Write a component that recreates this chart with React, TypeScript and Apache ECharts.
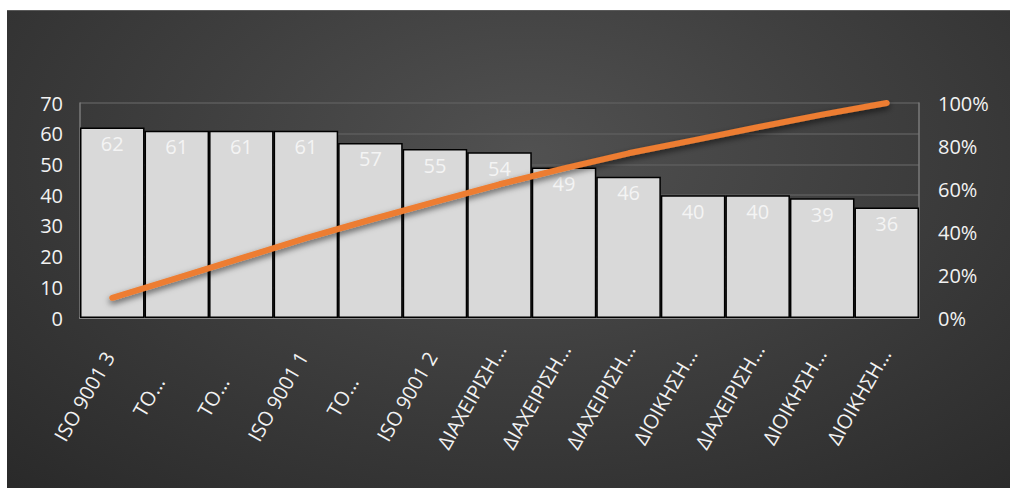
import React, { useEffect, useRef } from "react";
import * as echarts from "echarts";

const categories = [
  "ISO 9001 3",
  "TO…",
  "TO…",
  "ISO 9001 1",
  "TO…",
  "ISO 9001 2",
  "ΔΙΑΧΕΙΡΙΣΗ…",
  "ΔΙΑΧΕΙΡΙΣΗ…",
  "ΔΙΑΧΕΙΡΙΣΗ…",
  "ΔΙΟΙΚΗΣΗ…",
  "ΔΙΑΧΕΙΡΙΣΗ…",
  "ΔΙΟΙΚΗΣΗ…",
  "ΔΙΟΙΚΗΣΗ…",
];
const counts = [62, 61, 61, 61, 57, 55, 54, 49, 46, 40, 40, 39, 36];
const cumulativePct = [9.4, 18.6, 27.8, 37.1, 45.7, 54.0, 62.2, 69.6, 76.6, 82.6, 88.7, 94.6, 100];

const FONT = "'Open Sans', 'Noto Sans', sans-serif";

export default function App() {
  const ref = useRef<HTMLDivElement>(null);
  useEffect(() => {
    if (!ref.current) return;
    const chart = echarts.init(ref.current, null, { renderer: "svg" });
    chart.setOption({
      animation: false,
      backgroundColor: "transparent",
      textStyle: { fontFamily: FONT },
      grid: { left: 73, right: 91, top: 92, bottom: 170, containLabel: false },
      xAxis: {
        type: "category",
        data: categories,
        axisTick: { show: false },
        axisLine: { show: true, lineStyle: { color: "#8a8a8a", width: 2 } },
        axisLabel: {
          interval: 0,
          rotate: 60,
          margin: 30,
          align: "center",
          verticalAlign: "middle",
          padding: [0, 112, 0, 0],
          color: "#f2f2f2",
          fontSize: 20,
          fontFamily: FONT,
        },
      },
      yAxis: [
        {
          type: "value",
          min: 0,
          max: 70,
          interval: 10,
          axisLine: { show: true, lineStyle: { color: "#7a7a7a", width: 1.5 } },
          axisTick: { show: false },
          splitLine: { show: true, lineStyle: { color: "#5c5c5c", width: 1.5 } },
          axisLabel: { color: "#f2f2f2", fontSize: 20, margin: 17, fontFamily: FONT },
        },
        {
          type: "value",
          min: 0,
          max: 100,
          interval: 20,
          axisLine: { show: true, lineStyle: { color: "#7a7a7a", width: 1.5 } },
          axisTick: { show: false },
          splitLine: { show: false },
          axisLabel: {
            color: "#f2f2f2",
            fontSize: 20,
            margin: 19,
            fontFamily: FONT,
            formatter: (v: number) => v + "%",
          },
        },
      ],
      series: [
        {
          type: "bar",
          data: counts,
          barCategoryGap: "0%",
          itemStyle: { color: "#d9d9d9", borderColor: "#000000", borderWidth: 1.5 },
          label: {
            show: true,
            position: "insideTop",
            distance: 6,
            color: "#f4f4f4",
            fontSize: 20,
            fontFamily: FONT,
          },
        },
        {
          type: "line",
          yAxisIndex: 1,
          data: cumulativePct,
          symbol: "none",
          lineStyle: {
            color: "#ED7D31",
            width: 6,
            cap: "round",
            join: "round",
            shadowColor: "rgba(0,0,0,0.6)",
            shadowBlur: 6,
            shadowOffsetY: 3,
          },
        },
      ],
    });
    return () => chart.dispose();
  }, []);
  return (
    <div
      ref={ref}
      style={{
        position: "absolute",
        left: 7,
        top: 10,
        width: 1003,
        height: 478,
        boxSizing: "border-box",
        borderTop: "1px solid #5a5a5a",
        background:
          "radial-gradient(ellipse 75% 95% at 52% 30%, #515151 0%, #3f3f3f 45%, #2a2a2a 100%)",
      }}
    />
  );
}
